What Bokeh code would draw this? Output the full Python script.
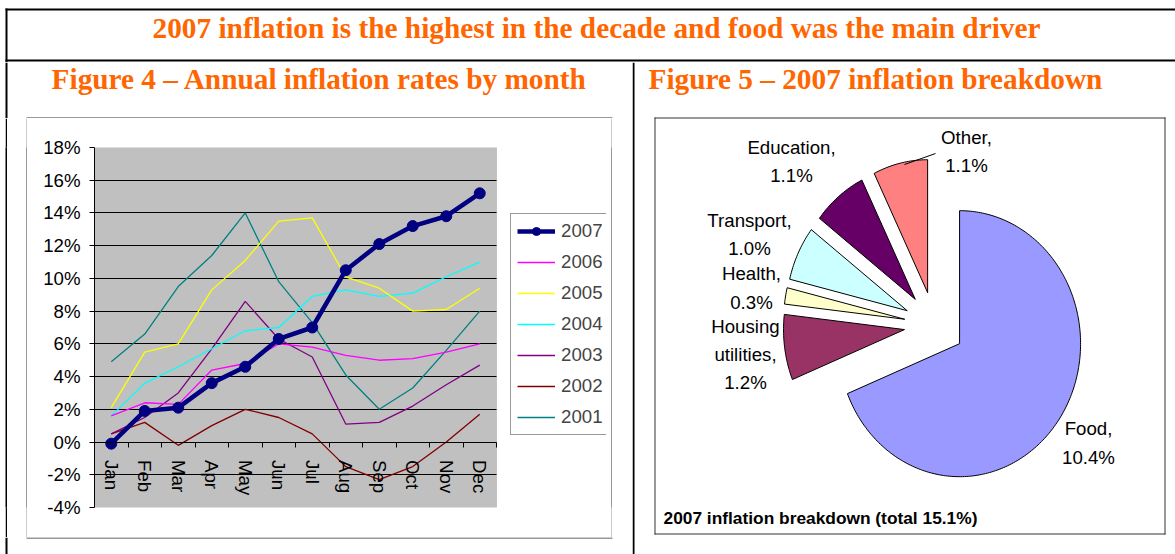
import math
from bokeh.plotting import figure
from bokeh.models import (FixedTicker, PrintfTickFormatter, Legend, LegendItem, Range1d,
                          BoxAnnotation)
from bokeh.layouts import column, row
from bokeh.embed import file_html
from bokeh.resources import INLINE
from bokeh.core.properties import value

# ---------------- data ----------------
main_title = "2007 inflation is the highest in the decade and food was the main driver"
fig4_title = "Figure 4 \u2013 Annual inflation rates by month"
fig5_title = "Figure 5 \u2013 2007 inflation breakdown"

months = ["Jan", "Feb", "Mar", "Apr", "May", "Jun", "Jul", "Aug", "Sep", "Oct", "Nov", "Dec"]
y_ticks = [-4, -2, 0, 2, 4, 6, 8, 10, 12, 14, 16, 18]

years = ["2007", "2006", "2005", "2004", "2003", "2002", "2001"]
infl_2007 = [-0.1, 1.9, 2.1, 3.6, 4.6, 6.3, 7.0, 10.5, 12.1, 13.2, 13.8, 15.2]
infl_2006 = [1.6, 2.4, 2.3, 4.4, 4.8, 6.0, 5.8, 5.3, 5.0, 5.1, 5.5, 6.0]
infl_2005 = [2.1, 5.5, 6.0, 9.3, 11.1, 13.5, 13.7, 10.1, 9.4, 8.0, 8.1, 9.4]
infl_2004 = [1.6, 3.6, 4.6, 5.7, 6.8, 7.0, 8.9, 9.3, 8.9, 9.1, 10.1, 11.0]
infl_2003 = [0.5, 1.5, 3.0, 5.7, 8.6, 6.3, 5.2, 1.1, 1.2, 2.2, 3.5, 4.7]
infl_2002 = [0.5, 1.2, -0.2, 1.0, 2.0, 1.5, 0.5, -1.5, -2.3, -1.5, 0.0, 1.7]
infl_2001 = [4.9, 6.6, 9.5, 11.4, 14.0, 9.8, 7.3, 4.1, 2.0, 3.3, 5.6, 8.0]

pie_categories = ["Food", "Housing utilities", "Health", "Transport", "Education", "Other"]
pie_values = [10.4, 1.2, 0.3, 1.0, 1.1, 1.1]
pie_caption = "2007 inflation breakdown (total 15.1%)"

# ---------------- styles / layout ----------------
ORANGE = "#FF6600"
BOX = "#333333"
SANS = value("Liberation Sans")
SERIF = value("Liberation Serif")
line_colors = ["#000080", "#FF00FF", "#FFFF00", "#00FFFF", "#800080", "#800000", "#008080"]
pie_colors = ["#9999FF", "#993366", "#FFFFCC", "#CCFFFF", "#660066", "#FF8080"]


def canvas(w, h):
    f = figure(width=w, height=h, x_range=Range1d(0, w), y_range=Range1d(h, 0),
               toolbar_location=None, output_backend="svg", min_border=0,
               x_axis_type=None, y_axis_type=None)
    f.outline_line_color = None
    f.background_fill_color = "white"
    f.border_fill_color = "white"
    return f


def solid(w, h, color):
    f = figure(width=w, height=h, toolbar_location=None, output_backend="svg",
               min_border=0, x_axis_type=None, y_axis_type=None)
    f.outline_line_color = None
    f.background_fill_color = color
    f.border_fill_color = color
    return f


def seg(f, x0, y0, x1, y1, w=1, c="black"):
    f.segment(x0=[x0], y0=[y0], x1=[x1], y1=[y1], line_width=w, line_color=c)


W, H = 1175, 554

# ---- top title band (y 0..62) ----
TH = 62
top = canvas(W, TH)
seg(top, 5, 9, W, 9, 2)
seg(top, 6, 8, 6, TH, 2)
seg(top, 5, 60, W, 60, 2)
top.text(x=[596], y=[27], text=[main_title], text_font=SERIF, text_font_style="bold",
         text_font_size="29.3px", text_color=ORANGE, text_align="center",
         text_baseline="middle")

# ---- left cell (x 0..632) ----
LW = 632
sub_l = canvas(LW, 56)  # y 62..118
seg(sub_l, 6, 0, 6, 56, 2)
sub_l.text(x=[319], y=[16], text=[fig4_title], text_font=SERIF, text_font_style="bold",
           text_font_size="29.3px", text_color=ORANGE, text_align="center",
           text_baseline="middle")
seg(sub_l, 26, 55.5, 612, 55.5, 1, BOX)

CH = 419  # y 118..537
BH = H - TH - 56 - CH
sub_b = canvas(LW, BH)
seg(sub_b, 6, 0, 6, BH, 2)
seg(sub_b, 26, 0.5, 612, 0.5, 1, BOX)

# line chart (canvas x 27..611); frame spans plot area + legend area
PW = 584
ML, MR, MT, MB = 67, 5, 29, 30
GRAY_W = 402                       # pixel width of the plotted month band
frame_w = PW - ML - MR
x_lo, x_hi = -0.5, len(months) - 0.5
x_end = x_lo + (x_hi - x_lo) * frame_w / GRAY_W
y_lo, y_hi = y_ticks[0], y_ticks[-1]

p = figure(width=PW, height=CH, x_range=Range1d(x_lo, x_end), y_range=Range1d(y_lo, y_hi),
           toolbar_location=None, output_backend="svg",
           min_border_left=ML, min_border_right=MR, min_border_top=MT, min_border_bottom=MB)
p.background_fill_color = "white"
p.border_fill_color = "white"
p.outline_line_color = None

plot_area = BoxAnnotation(left=x_lo, right=x_hi, bottom=y_lo, top=y_hi,
                          fill_color="#C0C0C0", fill_alpha=1.0,
                          line_color="#808080", line_width=1, level="image")
p.add_layout(plot_area)

p.yaxis.ticker = FixedTicker(ticks=y_ticks)
p.yaxis.formatter = PrintfTickFormatter(format="%d%%")
p.yaxis.major_label_text_font = "Liberation Sans"
p.yaxis.major_label_text_font_size = "14pt"
p.yaxis.major_label_text_color = "black"
p.yaxis.major_tick_out = 5
p.yaxis.major_tick_in = 0
p.yaxis.minor_tick_line_color = None
p.yaxis.axis_line_color = "black"
p.yaxis.major_tick_line_color = "black"
p.yaxis.major_label_standoff = 9

p.xaxis.fixed_location = 0
p.xaxis.bounds = (x_lo, x_hi)
p.xaxis.ticker = FixedTicker(ticks=list(range(len(months))),
                             minor_ticks=[i - 0.5 for i in range(len(months) + 1)])
p.xaxis.major_label_overrides = {i: m for i, m in enumerate(months)}
p.xaxis.major_label_orientation = -math.pi / 2
p.xaxis.major_label_text_font = "Liberation Sans"
p.xaxis.major_label_text_font_size = "14pt"
p.xaxis.major_label_text_color = "black"
p.xaxis.major_tick_out = 0
p.xaxis.major_tick_in = 0
p.xaxis.minor_tick_out = 5
p.xaxis.minor_tick_in = 0
p.xaxis.minor_tick_line_color = "black"
p.xaxis.axis_line_color = "black"
p.xaxis.major_label_standoff = 13

p.xgrid.visible = False
p.ygrid.grid_line_color = "black"
p.ygrid.grid_line_width = 1
try:
    p.ygrid.cross_bounds = (x_lo, x_hi)
except Exception:
    pass

x = list(range(len(months)))
series = [infl_2007, infl_2006, infl_2005, infl_2004, infl_2003, infl_2002, infl_2001]
renderers = {}
for yr, ys, col in reversed(list(zip(years, series, line_colors))):
    if yr == "2007":
        l = p.line(x, ys, line_color=col, line_width=4.5)
        s = p.scatter(x, ys, size=11, fill_color=col, line_color=col)
        renderers[yr] = [l, s]
    else:
        l = p.line(x, ys, line_color=col, line_width=1.3)
        renderers[yr] = [l]

legend = Legend(items=[LegendItem(label=yr, renderers=renderers[yr]) for yr in years],
                location=(GRAY_W + 14, 72), margin=0, padding=6, spacing=9,
                glyph_width=38, glyph_height=20, label_height=20, label_standoff=6,
                label_text_font="Liberation Sans", label_text_font_size="14pt",
                border_line_color=BOX, border_line_width=1, background_fill_color="white")
p.add_layout(legend)

chart_row = row(solid(5, CH, "white"), solid(2, CH, "black"), solid(19, CH, "white"),
                solid(1, CH, BOX), p, solid(1, CH, BOX), solid(20, CH, "white"))
left_cell = column(sub_l, chart_row, sub_b)

# ---- right cell (x 632..1175, y 62..554) ----
RW, RH = W - LW, H - TH
rf = canvas(RW, RH)
seg(rf, 1, 0, 1, RH, 2)
rf.text(x=[16], y=[16], text=[fig5_title], text_font=SERIF, text_font_style="bold",
        text_font_size="29.3px", text_color=ORANGE, text_align="left",
        text_baseline="middle")
# pie box
seg(rf, 22, 55.5, 533, 55.5, 1, BOX)
seg(rf, 22, 471.5, 533, 471.5, 1, BOX)
seg(rf, 22.5, 55, 22.5, 472, 1, BOX)
seg(rf, 532.5, 55, 532.5, 472, 1, BOX)

# exploded pie (slightly elliptical like the original)
cx, cy, rx, ry, explode = 302.0, 262.6, 121.0, 133.0, 0.25
total = sum(pie_values)
xs, ys_ = [], []
cum = 0.0
for v in pie_values:
    a0 = 90.0 - cum / total * 360.0
    a1 = a0 - v / total * 360.0
    cum += v
    b = math.radians((a0 + a1) / 2)
    ox = cx + explode * rx * math.cos(b)
    oy = cy - explode * ry * math.sin(b)
    n = max(4, int(abs(a1 - a0)))
    px = [ox]
    py = [oy]
    for k in range(n + 1):
        t = math.radians(a0 + (a1 - a0) * k / n)
        px.append(ox + rx * math.cos(t))
        py.append(oy - ry * math.sin(t))
    xs.append(px)
    ys_.append(py)
rf.patches(xs, ys_, fill_color=pie_colors, line_color="black", line_width=1)

pie_labels = [f"{c.replace(' ', chr(10))},\n{v:.1f}%" for c, v in zip(pie_categories, pie_values)]
label_x = [456, 113, 119, 117, 159, 334]
label_y = [380.5, 292, 225.5, 172, 99, 89]
rf.text(x=label_x, y=label_y, text=pie_labels, text_font=SANS, text_font_size="14pt",
        text_color="black", text_align="center", text_baseline="middle",
        text_line_height=1.35)
seg(rf, 272, 102, 303, 91, 1, "black")
rf.text(x=[31], y=[455], text=[pie_caption], text_font=SANS, text_font_style="bold",
        text_font_size="13pt", text_color="black", text_align="left",
        text_baseline="middle")

root = column(top, row(left_cell, rf))
open("out.html", "w").write(file_html(root, INLINE))
